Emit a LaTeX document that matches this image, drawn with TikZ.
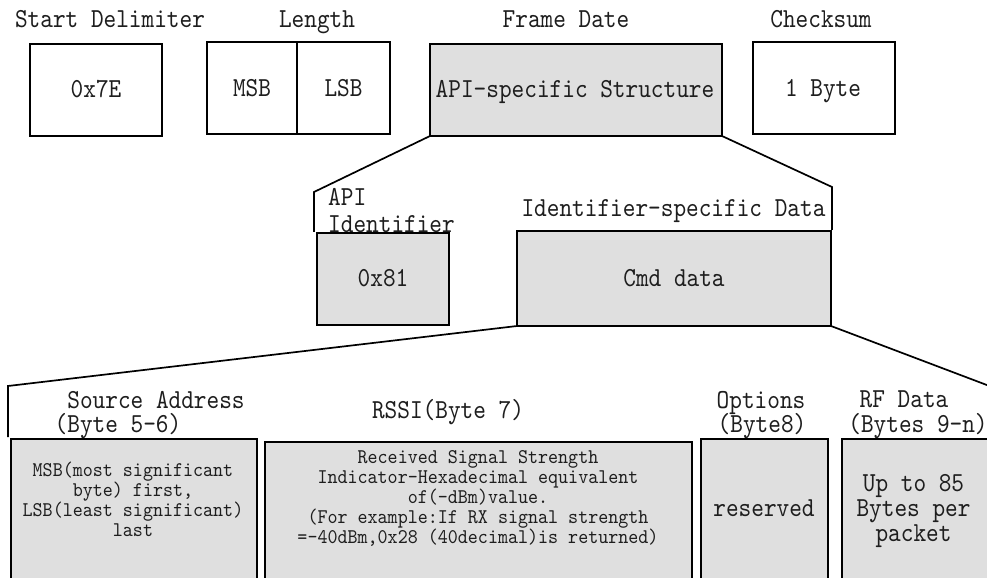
\documentclass[tikz,border=0pt]{standalone}
\usepackage{fontspec}
\newfontfamily\monof[FakeStretch=0.877]{lmmono10-regular.otf}
\newfontfamily\monos[FakeStretch=0.914]{lmmono10-regular.otf}
\newcommand\bigf{\monof\fontsize{27.5bp}{25bp}\selectfont}
\newcommand\smallf{\monos\fontsize{20.9bp}{20bp}\selectfont}
\definecolor{boxgray}{HTML}{DFDFDF}
\definecolor{ink}{HTML}{1E1E1E}
\tikzset{
  frame/.style={draw=black, line width=1.7bp, inner sep=0pt, outer sep=0pt},
  shade/.style={frame, fill=boxgray},
  lbl/.style={font=\bigf, text=ink, inner sep=0pt, anchor=base},
  note/.style={font=\smallf, text=ink, inner sep=0pt, anchor=base},
  link/.style={draw=black, line width=1.7bp, line join=miter}
}
\begin{document}
\begin{tikzpicture}[x=1bp, y=-1bp]
\useasboundingbox (0,0) rectangle (987,578);
\clip (0,0) rectangle (987,578);
\fill[white] (0,0) rectangle (987,578);

% top row headings
\node[lbl] (hsd)  at (110,28) {Start Delimiter};
\node[lbl] (hlen) at (317,28) {Length};
\node[lbl] (hfd)  at (566,28) {Frame Date};
\node[lbl] (hcks) at (821,28) {Checksum};

% top row fields
\node[frame, minimum width=132bp, minimum height=92bp] (sd) at (96,90) {};
\node[lbl] (tsd) at (96,98) {0x7E};
\node[frame, minimum width=90bp, minimum height=92bp] (msb) at (252,88) {};
\node[frame, minimum width=93bp, minimum height=92bp] (lsb) at (343.5,88) {};
\node[lbl] (tmsb) at (252,97) {MSB};
\node[lbl] (tlsb) at (343.5,97) {LSB};
\node[shade, minimum width=292bp, minimum height=92bp] (api) at (576,90) {};
\node[lbl] (tapi) at (575,98) {API-specific Structure};
\node[frame, minimum width=142bp, minimum height=92bp] (cks) at (824,88) {};
\node[lbl] (tcks) at (823,97) {1 Byte};

% expansion of the frame data
\coordinate (al1) at (314,192);
\coordinate (al2) at (314,232);
\coordinate (ar1) at (832,187);
\coordinate (ar2) at (832,230);
\draw[link] (api.south west) -- (al1) -- (al2);
\draw[link] (api.south east) -- (ar1) -- (ar2);

\node[lbl, anchor=base west] (hid1) at (328,206) {API};
\node[lbl, anchor=base west] (hid2) at (328,233) {Identifier};
\node[lbl] (hisd) at (673.5,217) {Identifier-specific Data};

\node[shade, minimum width=132bp, minimum height=92bp] (id) at (383,279) {};
\node[lbl] (tid) at (383,287) {0x81};
\node[shade, minimum width=314bp, minimum height=95bp] (cmd) at (674,278.5) {};
\node[lbl] (tcmd) at (674,287) {Cmd data};

% expansion of the command data
\coordinate (bl1) at (8,386);
\coordinate (bl2) at (8,437);
\coordinate (br1) at (1000,390);
\draw[link] (cmd.south west) -- (bl1) -- (bl2);
\draw[link] (cmd.south east) -- (br1);

\node[lbl] (hsrc1) at (156,408) {Source Address};
\node[lbl] (hsrc2) at (118,432) {(Byte 5-6)};
\node[lbl] (hrssi) at (448,418) {RSSI(Byte 7)};
\node[lbl] (hopt1) at (761,408) {Options};
\node[lbl] (hopt2) at (762,432) {(Byte8)};
\node[lbl] (hrf1) at (904,407) {RF Data};
\node[lbl] (hrf2) at (918,432) {(Bytes 9-n)};

\node[shade, minimum width=246bp, minimum height=146bp] (src) at (134,512) {};
\node[shade, minimum width=427bp, minimum height=143bp] (rssi) at (478.5,513.5) {};
\node[shade, minimum width=127bp, minimum height=146bp] (opt) at (764.5,512) {};
\node[shade, minimum width=153bp, minimum height=146bp] (rf) at (918.5,512) {};

% multi-line texts: the base anchor sits on the last line
\node[note, align=center, anchor=base] (tsrc) at (133,536)
  {MSB(most significant\\byte) first,\\LSB(least significant)\\last};
\node[note, align=center, anchor=base] (trssi) at (478,543)
  {Received Signal Strength\\Indicator-Hexadecimal equivalent\\of(-dBm)value.\\(For example:If RX signal strength\\=-40dBm,0x28 (40decimal)is returned)};
\node[lbl] (topt) at (764,516) {reserved};
\node[lbl, align=center, anchor=base] (trf) at (913.5,541) {Up to 85\\Bytes per\\packet};
\end{tikzpicture}
\end{document}
